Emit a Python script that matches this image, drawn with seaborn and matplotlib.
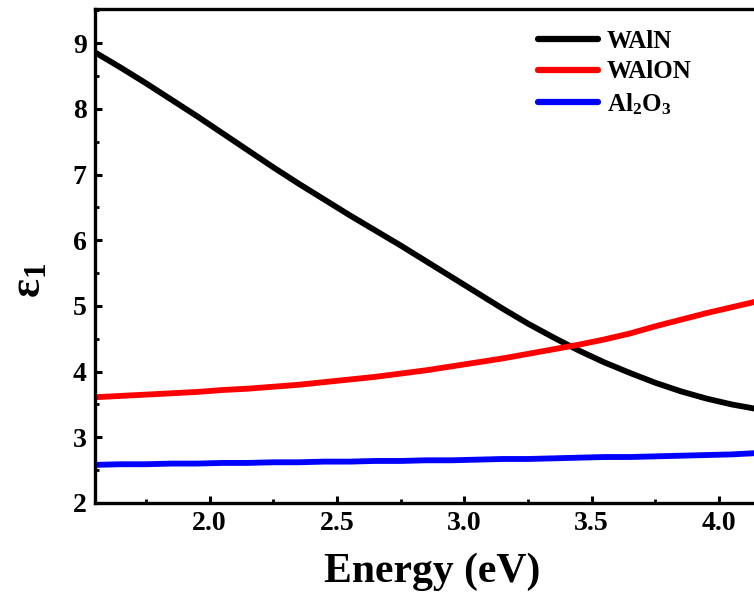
import numpy as np
import pandas as pd
import matplotlib
matplotlib.use("Agg")
import matplotlib.pyplot as plt
from matplotlib.ticker import MultipleLocator, FormatStrFormatter
import seaborn as sns

# Photon energy (eV)
energy = [1.55, 1.65, 1.75, 1.85, 1.95, 2.05, 2.15, 2.25, 2.35, 2.45,
          2.55, 2.65, 2.75, 2.85, 2.95, 3.05, 3.15, 3.25, 3.35, 3.45,
          3.55, 3.65, 3.75, 3.85, 3.95, 4.05, 4.15]

# Real part of the dielectric function, epsilon_1
eps_waln = [8.86, 8.63, 8.39, 8.14, 7.89, 7.63, 7.37, 7.11, 6.86, 6.62,
            6.38, 6.15, 5.92, 5.68, 5.44, 5.20, 4.96, 4.73, 4.52, 4.32,
            4.14, 3.98, 3.83, 3.70, 3.59, 3.50, 3.43]
eps_walon = [3.61, 3.63, 3.65, 3.67, 3.69, 3.72, 3.74, 3.77, 3.80, 3.84,
             3.88, 3.92, 3.97, 4.02, 4.08, 4.14, 4.20, 4.27, 4.34, 4.41,
             4.49, 4.58, 4.69, 4.79, 4.89, 4.98, 5.07]
eps_al2o3 = [2.58, 2.59, 2.59, 2.60, 2.60, 2.61, 2.61, 2.62, 2.62, 2.63,
             2.63, 2.64, 2.64, 2.65, 2.65, 2.66, 2.67, 2.67, 2.68, 2.69,
             2.70, 2.70, 2.71, 2.72, 2.73, 2.74, 2.76]

series_names = ["WAlN", "WAlON", r"Al$\mathregular{_2}$O$\mathregular{_3}$"]
series_colors = ["#000000", "#ff0000", "#0000ff"]

df = pd.DataFrame({
    "Energy": energy * 3,
    "eps1": eps_waln + eps_walon + eps_al2o3,
    "Sample": [series_names[0]] * len(energy)
              + [series_names[1]] * len(energy)
              + [series_names[2]] * len(energy),
})

sns.set_theme(style="ticks")
plt.rcParams["font.family"] = ["Liberation Serif", "DejaVu Serif"]
plt.rcParams["font.weight"] = "bold"
plt.rcParams["mathtext.fontset"] = "custom"
plt.rcParams["mathtext.rm"] = "Liberation Serif:bold"
plt.rcParams["mathtext.it"] = "Liberation Serif:bold"
plt.rcParams["mathtext.bf"] = "Liberation Serif:bold"
for key in ["text.color", "axes.labelcolor", "xtick.color", "ytick.color",
            "axes.edgecolor"]:
    plt.rcParams[key] = "black"

fig = plt.figure(figsize=(7.54, 5.96), dpi=100)
fig.patch.set_facecolor("white")
ax = fig.add_axes([95 / 754, 93 / 596, 675 / 754, 494 / 596])

sns.lineplot(data=df, x="Energy", y="eps1", hue="Sample",
             palette=dict(zip(series_names, series_colors)),
             linewidth=4.2, ax=ax, legend=False, sort=False)

ax.set_xlim(1.55, 4.2)
ax.set_ylim(2, 9.52)
ax.xaxis.set_major_locator(MultipleLocator(0.5))
ax.xaxis.set_minor_locator(MultipleLocator(0.25))
ax.yaxis.set_major_locator(MultipleLocator(1))
ax.yaxis.set_minor_locator(MultipleLocator(0.5))
ax.xaxis.set_major_formatter(FormatStrFormatter("%.1f"))

ax.tick_params(which="major", direction="in", length=5, width=2.2,
               labelsize=20, pad=6, top=False, right=False,
               colors="black")
ax.tick_params(which="minor", direction="in", length=3, width=2.0,
               top=False, right=False, colors="black")
for lbl in ax.get_xticklabels() + ax.get_yticklabels():
    lbl.set_fontweight("bold")

for side in ["left", "bottom", "top", "right"]:
    ax.spines[side].set_linewidth(2.4)
    ax.spines[side].set_color("black")

ax.set_xlabel("Energy (eV)", fontsize=30, fontweight="bold", labelpad=12)
ax.set_ylabel(r"$\mathregular{\varepsilon_1}$", fontsize=32, fontweight="bold")
ax.yaxis.set_label_coords(-0.068, 0.45)

handles = [plt.Line2D([], [], color=c, linewidth=4.5) for c in series_colors]
fig.legend(handles, series_names, loc="upper left",
           bbox_to_anchor=(538 / 754, 1 - 30 / 596),
           frameon=False, handlelength=2.4,
           handletextpad=0.35, labelspacing=0.3, borderpad=0,
           borderaxespad=0, prop={"weight": "bold", "size": 18})

fig.savefig("out.png", dpi=100, facecolor="white")
